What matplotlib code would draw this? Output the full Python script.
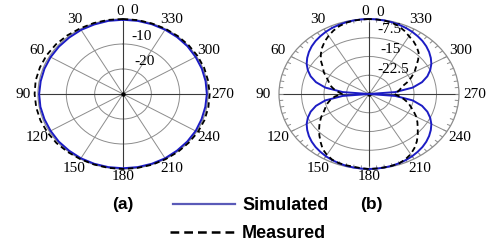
import numpy as np
import matplotlib
matplotlib.use("Agg")
import matplotlib.pyplot as plt
from matplotlib.lines import Line2D

# ---------------- data ----------------
angle_labels = ["0", "30", "60", "90", "120", "150", "180", "210", "240", "270", "300", "330"]

# (a) 10-degree samples, dB
theta_a_deg = list(range(0, 370, 10))
sim_a = [-0.3, -0.3, -0.4, -0.4, -0.5, -0.5, -0.5, -0.5, -0.5, -0.4, -0.4, -0.5,
         -0.5, -0.4, -0.4, -0.3, -0.3, -0.3, -0.3, -0.3, -0.3, -0.3, -0.4, -0.4,
         -0.4, -0.5, -0.5, -0.4, -0.4, -0.4, -0.4, -0.3, -0.3, -0.3, -0.3, -0.3, -0.3]
meas_a = [0.0, 0.1, 0.2, 0.3, 0.6, 0.9, 1.1, 1.2, 1.3, 1.2, 1.1, 1.0,
          0.8, 0.6, 0.3, 0.1, 0.0, 0.0, 0.0, 0.0, 0.1, 0.1, 0.2, 0.3,
          0.5, 0.6, 0.6, 0.6, 0.5, 0.5, 0.4, 0.3, 0.2, 0.1, 0.0, 0.0, 0.0]
rticks_a = [-10, -20]
rlabels_a = ["-10", "-20"]

# (b) 5-degree samples, dB
theta_b_deg = list(range(0, 365, 5))
sim_b = [0.0, -0.05, -0.15, -0.3, -0.55, -0.85, -1.25, -1.75, -2.3, -3.0, -3.85, -4.85,
         -6.0, -7.5, -9.3, -11.7, -15.2, -21.2, -30.0, -21.2, -15.2, -11.7, -9.3, -7.5,
         -6.0, -4.85, -3.85, -3.0, -2.3, -1.75, -1.25, -0.85, -0.55, -0.3, -0.15, -0.05,
         0.0, -0.05, -0.15, -0.3, -0.55, -0.85, -1.25, -1.75, -2.3, -3.0, -3.85, -4.85,
         -6.0, -7.5, -9.3, -11.7, -15.2, -21.2, -30.0, -21.2, -15.2, -11.7, -9.3, -7.5,
         -6.0, -4.85, -3.85, -3.0, -2.3, -1.75, -1.25, -0.85, -0.55, -0.3, -0.15, -0.05, 0.0]
meas_b = [0.0, -0.1, -0.2, -0.5, -1.1, -2.0, -3.1, -4.3, -5.7, -7.3, -9.0, -11.2,
          -12.6, -14.4, -15.7, -16.6, -18.0, -19.6, -21.0, -18.6, -17.0, -15.7, -14.6, -13.4,
          -11.6, -9.9, -8.3, -6.6, -4.9, -3.1, -1.9, -1.0, -0.6, -0.5, -0.45, -0.2,
          0.0, -0.1, -0.2, -0.3, -0.5, -1.2, -2.2, -3.6, -5.2, -7.0, -8.8, -10.3,
          -11.8, -13.6, -15.2, -16.5, -18.2, -20.0, -21.5, -20.5, -19.5, -18.6, -16.5, -14.5,
          -12.5, -10.8, -8.6, -6.6, -5.3, -4.2, -3.3, -2.1, -1.1, -0.5, -0.2, -0.1, 0.0]
rticks_b = [-7.5, -15, -22.5]
rlabels_b = ["-7.5", "-15", "-22.5"]

RMIN, RMAX = -30, 0

# ---------------- figure ----------------
W, H = 489, 244
fig = plt.figure(figsize=(W / 100, H / 100), dpi=100)
fig.patch.set_facecolor("white")

serif = "Liberation Serif"
sans = "Liberation Sans"
BLUE = "#1c1cc4"
GRID = "#8c8c8c"


def px_rect(cx, cy, rx, ry):
    return [(cx - rx) / W, 1 - (cy + ry) / H, 2 * rx / W, 2 * ry / H]


def make_axes(rect, rticks, rlabels, rlabel_pos, ticks_ring):
    ax = fig.add_axes(rect, projection="polar")
    ax.set_aspect("auto")
    ax.set_theta_zero_location("N")
    ax.set_theta_direction(1)
    ax.set_ylim(RMIN, RMAX)
    ax.set_xticks(np.deg2rad(np.arange(0, 360, 30)))
    ax.set_xticklabels([])
    ax.set_yticks(rticks)
    ax.set_yticklabels([])
    ax.grid(True, color=GRID, lw=0.7)
    ax.spines["polar"].set_color(GRID)
    ax.spines["polar"].set_linewidth(0.9)
    for d in (0, 90, 180, 270):
        ax.plot([np.deg2rad(d), np.deg2rad(d)], [RMIN, RMAX], color="#3a3a3a", lw=0.8, zorder=2)
    ax.plot([0], [RMIN], "o", color="black", ms=2.2, zorder=3)
    if ticks_ring:
        tt = np.deg2rad(np.arange(0, 360, 5))
        ax.vlines(tt, RMAX - 1.3, RMAX, color=GRID, lw=0.7)
    # angle labels
    for i, lab in enumerate(angle_labels):
        d = i * 30
        s = abs(np.sin(np.deg2rad(d)))
        rn = 1.10 + 0.08 * s
        r = RMIN + rn * (RMAX - RMIN)
        dd = d + (2 if d == 0 else 0)
        ax.text(np.deg2rad(dd), r, lab, ha="center", va="center",
                fontsize=11, family=serif, clip_on=False)
    # radial labels
    for (th, r), lab in zip(rlabel_pos, ["0"] + rlabels):
        ax.text(np.deg2rad(th), r, lab, ha="center", va="center",
                fontsize=11, family=serif, clip_on=False)
    return ax


ax_a = make_axes(px_rect(123, 94, 85, 75), rticks_a, rlabels_a,
                 [(353.4, 3.8), (344, -6.0), (330, -15.0)], False)
ax_a.plot(np.deg2rad(theta_a_deg), sim_a, color=BLUE, lw=1.4, zorder=4, clip_on=False)
ax_a.plot(np.deg2rad(theta_a_deg), meas_a, color="black", lw=1.3, ls=(0, (3, 2)),
          zorder=5, clip_on=False)

ax_b = make_axes(px_rect(369, 94, 90, 75), rticks_b, rlabels_b,
                 [(353.6, 3.0), (345, -3.1), (338, -10.6), (321, -17.2)], True)
ax_b.plot(np.deg2rad(theta_b_deg), sim_b, color=BLUE, lw=1.4, zorder=4, clip_on=False)
ax_b.plot(np.deg2rad(theta_b_deg), meas_b, color="black", lw=1.3, ls=(0, (3, 2)),
          zorder=5, clip_on=False)

# subplot labels
fig.text(123 / W, 1 - 205 / H, "(a)", ha="center", va="center", fontsize=12.5,
         fontweight="bold", family=sans)
fig.text(371 / W, 1 - 205 / H, "(b)", ha="center", va="center", fontsize=12.5,
         fontweight="bold", family=sans)

# legend
fig.add_artist(Line2D([173 / W, 235 / W], [1 - 204 / H, 1 - 204 / H], color="#5a5ab8", lw=1.6))
fig.add_artist(Line2D([170 / W, 235 / W], [1 - 232 / H, 1 - 232 / H], color="black", lw=1.8,
                      ls=(0, (3.5, 2))))
fig.text(242 / W, 1 - 205 / H, "Simulated", ha="left", va="center", fontsize=13,
         fontweight="bold", family=sans)
fig.text(242 / W, 1 - 233 / H, "Measured", ha="left", va="center", fontsize=13,
         fontweight="bold", family=sans)

fig.savefig("out.png", dpi=100)
